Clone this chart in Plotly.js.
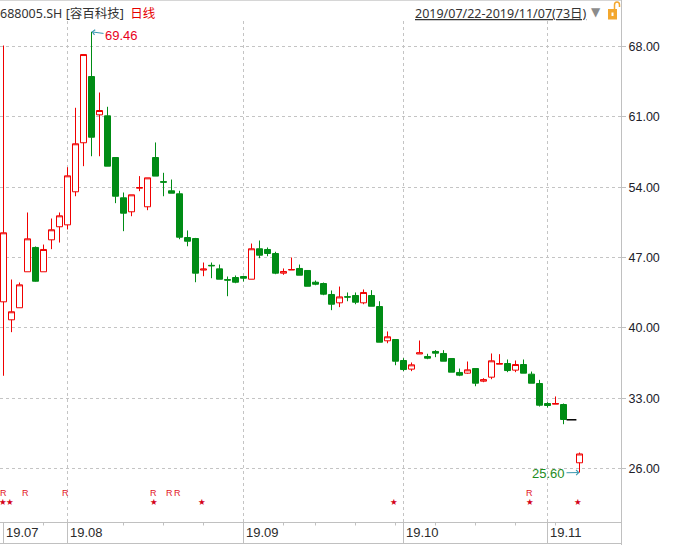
<!DOCTYPE html>
<html><head><meta charset="utf-8">
<script src="https://cdn.plot.ly/plotly-3.0.1.min.js"></script>
<style>html,body{margin:0;padding:0;background:#fff}#chart{width:684px;height:545px}</style>
</head><body><div id="chart"></div>
<script>
// ---- data ----
const dates = [
 '2019-07-22','2019-07-23','2019-07-24','2019-07-25','2019-07-26','2019-07-29','2019-07-30','2019-07-31',
 '2019-08-01','2019-08-02','2019-08-05','2019-08-06','2019-08-07','2019-08-08','2019-08-09','2019-08-12',
 '2019-08-13','2019-08-14','2019-08-15','2019-08-16','2019-08-19','2019-08-20','2019-08-21','2019-08-22',
 '2019-08-23','2019-08-26','2019-08-27','2019-08-28','2019-08-29','2019-08-30',
 '2019-09-02','2019-09-03','2019-09-04','2019-09-05','2019-09-06','2019-09-09','2019-09-10','2019-09-11',
 '2019-09-12','2019-09-16','2019-09-17','2019-09-18','2019-09-19','2019-09-20','2019-09-23','2019-09-24',
 '2019-09-25','2019-09-26','2019-09-27','2019-09-30',
 '2019-10-08','2019-10-09','2019-10-10','2019-10-11','2019-10-14','2019-10-15','2019-10-16','2019-10-17',
 '2019-10-18','2019-10-21','2019-10-22','2019-10-23','2019-10-24','2019-10-25','2019-10-28','2019-10-29',
 '2019-10-30','2019-10-31',
 '2019-11-01','2019-11-04','2019-11-05','2019-11-06','2019-11-07'];

const open  = [42.59,40.80,42.00,45.58,48.00,45.58,48.76,50.06,50.25,53.54,58.42,65.01,61.20,61.10,56.95,52.94,
 51.55,53.90,52.05,56.95,54.55,53.64,53.34,48.99,48.89,45.75,46.22,45.87,44.80,45.01,45.11,44.84,47.87,47.80,
 47.40,45.44,45.76,45.91,45.71,44.54,44.41,43.32,42.49,43.10,43.22,42.49,43.22,42.12,38.71,38.84,36.75,35.89,
 37.40,37.15,37.65,37.45,36.95,35.56,35.49,35.95,34.69,35.09,36.38,36.45,35.79,36.35,35.39,34.46,32.47,32.40,
 32.37,null,26.57];
const high  = [68.10,44.81,44.51,51.48,48.10,48.29,50.88,51.48,55.99,61.90,67.20,69.46,63.42,62.00,56.95,53.47,
 53.24,55.10,54.93,58.45,55.43,54.76,53.64,49.69,48.95,46.50,46.50,46.30,45.11,45.21,45.11,48.39,48.69,48.00,
 47.57,45.91,47.00,46.30,45.71,44.71,44.51,43.72,44.11,43.52,43.52,43.82,43.75,42.65,39.64,38.84,36.98,36.55,
 38.74,37.42,37.78,37.78,36.95,35.95,36.65,35.95,34.99,37.45,37.38,36.85,36.75,36.85,35.65,34.82,32.60,33.17,
 32.47,null,27.59];
const low   = [35.23,39.57,42.00,45.58,44.60,45.58,47.83,48.49,49.79,53.10,56.09,57.08,57.08,56.09,52.41,49.62,
 51.11,53.60,51.71,55.10,53.10,53.40,48.82,48.12,44.54,45.14,44.94,44.84,43.15,44.44,44.61,44.84,46.93,47.13,
 45.34,45.28,45.76,45.24,44.14,44.24,43.25,41.76,42.06,42.65,42.35,42.35,42.15,38.57,38.47,36.28,35.69,35.69,
 37.40,36.88,37.08,36.68,35.59,35.19,35.43,34.19,34.59,34.89,36.38,35.59,35.59,35.49,34.49,32.17,32.07,32.40,
 30.41,null,25.60];
const close = [49.46,41.60,44.28,48.86,44.64,47.80,49.76,51.15,55.13,58.32,67.20,58.97,61.63,56.09,53.10,51.41,
 53.24,53.96,54.93,55.10,54.50,53.40,49.02,48.62,45.44,45.85,46.18,44.84,44.75,44.54,44.94,47.87,47.23,47.40,
 45.44,45.61,45.80,45.24,44.14,44.34,43.35,42.35,43.08,43.06,42.55,43.52,42.15,38.57,39.11,36.68,35.85,36.32,
 37.52,36.98,37.48,36.68,35.59,35.29,35.82,34.49,34.85,36.72,36.45,35.75,36.35,35.49,34.49,32.30,32.27,32.47,
 30.88,null,27.45];

// flat (no-range) day drawn as a black dash
const flatDates  = ['2019-11-06'];
const flatPrices = [30.85];

const yTickVals   = [26, 33, 40, 47, 54, 61, 68];
const yTickText   = ['26.00','33.00','40.00','47.00','54.00','61.00','68.00'];
const monthStarts = ['2019-07-22','2019-08-01','2019-09-02','2019-10-08','2019-11-01'];
const monthLabels = ['19.07','19.08','19.09','19.10','19.11'];
const weekTicks   = ['2019-07-29','2019-08-12','2019-08-19','2019-08-26','2019-09-09','2019-09-16',
                     '2019-09-23','2019-09-30','2019-10-14','2019-10-21','2019-10-28','2019-11-04'];
const rMarks      = ['2019-07-22','2019-07-25','2019-08-01','2019-08-16','2019-08-20','2019-08-21','2019-10-30'];
const starMarks   = ['2019-07-22','2019-07-23','2019-08-16','2019-08-26','2019-09-30','2019-10-30','2019-11-07'];

const titleCode = '688005.SH [容百科技]';
const titleKind = '日线';
const rangeText = '2019/07/22-2019/11/07(73日)';
const maxLabel = {date:'2019-08-06', price:69.46, text:'69.46'};
const minLabel = {date:'2019-11-07', price:25.60, text:'25.60'};

// ---- layout helpers (pixel -> paper) ----
const PL = 0, PR = 621, PT = 21, PB = 522;
const PX = p => (p - PL) / (PR - PL);
const PY = p => (PB - p) / (PB - PT);
const idx = d => dates.indexOf(d);

const RED = '#f00000', GREEN = '#008c15', GRID = '#c4c4c4', AX = '#c0c0c0';
const FONT = "'Noto Sans', 'Noto Sans CJK SC', sans-serif";
const NUMFONT = "'Liberation Sans', Arial, sans-serif";

const traces = [
  {
    type: 'candlestick', x: dates, open: open, high: high, low: low, close: close,
    increasing: {line: {color: RED, width: 1}, fillcolor: '#ffffff'},
    decreasing: {line: {color: GREEN, width: 1}, fillcolor: GREEN},
    whiskerwidth: 0, hoverinfo: 'skip', showlegend: false
  },
  {
    type: 'scatter', mode: 'markers', x: flatDates, y: flatPrices,
    marker: {symbol: 'line-ew', size: 7, color: '#000', line: {width: 1.5, color: '#000'}},
    hoverinfo: 'skip', showlegend: false
  }
];

const shapes = [];
const annotations = [];

// frame lines
shapes.push({type:'line', xref:'paper', yref:'paper', x0:PX(0), x1:PX(621), y0:PY(0.5), y1:PY(0.5), line:{color:'#d6d6d6', width:1}});
shapes.push({type:'line', xref:'paper', yref:'paper', x0:PX(621.5), x1:PX(621.5), y0:PY(0), y1:PY(545), line:{color:AX, width:1}});
shapes.push({type:'line', xref:'paper', yref:'paper', x0:PX(0), x1:PX(621.5), y0:PY(543.5), y1:PY(543.5), line:{color:AX, width:1}});

// month separators + labels
monthStarts.forEach((d, k) => {
  shapes.push({type:'line', xref:'x', yref:'paper', x0:idx(d), x1:idx(d), y0:PY(522), y1:PY(543.5), line:{color:AX, width:1}});
  annotations.push({xref:'x', yref:'paper', x:idx(d), y:PY(532), xanchor:'left', yanchor:'middle', xshift:0,
    text:monthLabels[k], showarrow:false, font:{family:NUMFONT, size:13, color:'#2a2a2a'}});
});
// weekly ticks
weekTicks.forEach(d => {
  shapes.push({type:'line', xref:'x', yref:'paper', x0:idx(d), x1:idx(d), y0:PY(522), y1:PY(525.5), line:{color:AX, width:1}});
});
// R and star marks
rMarks.forEach((d, k) => annotations.push({xref:'x', yref:'paper', x:idx(d), y:PY(492.5), xshift:(k === 0 ? -0.5 : -2.5),
  xanchor:'center', yanchor:'middle', text:'R', showarrow:false, font:{family:NUMFONT, size:9, color:'#e2141e'}}));
starMarks.forEach((d, k) => annotations.push({xref:'x', yref:'paper', x:idx(d), y:PY(502), xshift:(k === 0 ? -0.5 : -2),
  xanchor:'center', yanchor:'middle', text:'★', showarrow:false, font:{family:"'DejaVu Sans', sans-serif", size:8.5, color:'#d40018'}}));

// max / min labels
annotations.push({xref:'x', yref:'y', x:idx(maxLabel.date), y:maxLabel.price, text:maxLabel.text,
  showarrow:true, ax:30, ay:4, arrowhead:4, arrowsize:1, arrowwidth:1, arrowcolor:'#3a98b0', standoff:0,
  font:{family:NUMFONT, size:13, color:'#e8001c'}});
annotations.push({xref:'x', yref:'y', x:idx(minLabel.date), y:minLabel.price, text:minLabel.text,
  showarrow:true, ax:-31, ay:0.5, arrowhead:4, arrowsize:1, arrowwidth:1, arrowcolor:'#3a98b0', standoff:0,
  font:{family:NUMFONT, size:13, color:'#1e8c1e'}});

// header
annotations.push({xref:'paper', yref:'paper', x:PX(0), y:PY(13), xanchor:'left', yanchor:'middle', xshift:-2,
  text: titleCode + '  <span style="color:#e60000">' + titleKind + '</span>', showarrow:false,
  font:{family:FONT, size:12.5, color:'#333333'}});
annotations.push({xref:'paper', yref:'paper', x:PX(587), y:PY(13), xanchor:'right', yanchor:'middle', xshift:2,
  text:'<u>' + rangeText + '</u>', showarrow:false, font:{family:FONT, size:12.5, color:'#333333'}});
annotations.push({xref:'paper', yref:'paper', x:PX(596), y:PY(12), xanchor:'center', yanchor:'middle',
  text:'▼', showarrow:false, font:{family:"'DejaVu Sans', sans-serif", size:12, color:'#8c8c8c'}});
// lock icon
shapes.push({type:'rect', xref:'paper', yref:'paper', x0:PX(608), x1:PX(617), y0:PY(19.5), y1:PY(9), fillcolor:'#f3a72e', line:{width:0}});
shapes.push({type:'rect', xref:'paper', yref:'paper', x0:PX(611.5), x1:PX(613.5), y0:PY(16), y1:PY(12.5), fillcolor:'#ffffff', line:{width:0}});
shapes.push({type:'path', xref:'paper', yref:'paper',
  path:`M ${PX(614.5)} ${PY(9)} L ${PX(614.5)} ${PY(5)} Q ${PX(614.5)} ${PY(2)} ${PX(617)} ${PY(2)} Q ${PX(619.5)} ${PY(2)} ${PX(619.5)} ${PY(5)} L ${PX(619.5)} ${PY(7)}`,
  line:{color:'#f3a72e', width:1.5}});

const layout = {
  width: 684, height: 545,
  margin: {l: PL, r: 684 - PR, t: PT, b: 545 - PB, pad: 0},
  paper_bgcolor: '#ffffff', plot_bgcolor: '#ffffff',
  showlegend: false, boxgap: 0.25, boxgroupgap: 0,
  xaxis: {
    type: 'category', range: [-0.4375, 77.1875], rangeslider: {visible: false},
    tickmode: 'array', tickvals: monthStarts.slice(1), showticklabels: false, ticks: '',
    showgrid: true, gridcolor: GRID, griddash: 'dot', gridwidth: 1,
    showline: true, linecolor: AX, linewidth: 1, zeroline: false, fixedrange: true
  },
  yaxis: {
    side: 'right', range: [20.677, 70.538], tickmode: 'array', tickvals: yTickVals, ticktext: yTickText,
    ticks: 'outside', ticklen: 4, tickcolor: AX, showline: true, linecolor: AX,
    showgrid: true, gridcolor: GRID, griddash: 'dot', gridwidth: 1, zeroline: false,
    tickfont: {family: NUMFONT, size: 12.5, color: '#20202a'}, fixedrange: true
  },
  shapes: shapes,
  annotations: annotations
};

Plotly.newPlot('chart', traces, layout, {displayModeBar: false, staticPlot: true});
</script>
</body></html>
